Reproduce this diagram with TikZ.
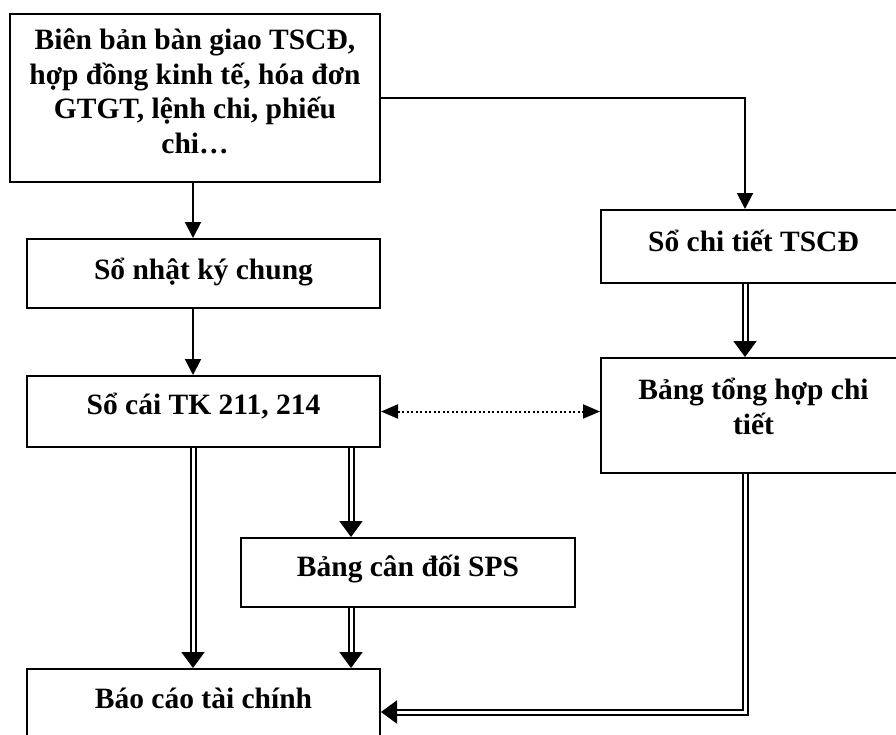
\documentclass[tikz,border=0pt]{standalone}
\usepackage{fontspec}
\setmainfont{Liberation Serif}
\usetikzlibrary{arrows.meta,positioning,calc}
\tikzset{
  box/.style={draw,line width=2pt,inner sep=0pt,align=center,anchor=north west,
    font=\fontsize{29.5}{34.5}\selectfont\bfseries},
  arr/.style={-{Triangle[width=16pt,length=16pt]},line width=2pt},
  darr/.style={-{Triangle[width=23pt,length=16pt]},line width=2pt,double,double distance=3pt},
  dots/.style={{Triangle[width=14pt,length=17pt]}-{Triangle[width=14pt,length=17pt]},
    line width=2pt,dash pattern=on 2pt off 2.5pt}
}
\begin{document}
\begin{tikzpicture}[x=1pt,y=-1pt]
  \useasboundingbox (0,0) rectangle (896,734);
  \clip (0,0) rectangle (896,734);
  % boxes
  \node[box,minimum width=370pt,text height=139pt,text depth=29pt] (src) at (9,13)
    {Biên bản bàn giao TSCĐ,\\hợp đồng kinh tế, hóa đơn\\GTGT, lệnh chi, phiếu\\chi…};
  \node[box,minimum width=353pt,text height=40pt,text depth=29pt] (nkc) at (26,238) {Sổ nhật ký chung};
  \node[box,minimum width=305pt,text height=41pt,text depth=32pt] (sct) at (600,209) {Sổ chi tiết TSCĐ};
  \node[box,minimum width=353pt,text height=38pt,text depth=33pt] (sc) at (26,375) {Sổ cái TK 211, 214};
  \node[box,minimum width=305pt,text height=76pt,text depth=39pt] (bth) at (600,357) {Bảng tổng hợp chi\\tiết};
  \node[box,minimum width=334pt,text height=38pt,text depth=31pt] (cd) at (240,537) {Bảng cân đối SPS};
  \node[box,minimum width=353pt,text height=39pt,text depth=47pt] (bc) at (26,668) {Báo cáo tài chính};
  % single arrows
  \draw[arr] ([xshift=-2pt]src.south) -- ([xshift=-2pt]src.south |- nkc.north);
  \draw[arr] ([xshift=-10.5pt]nkc.south) -- ([xshift=-10.5pt]nkc.south |- sc.north);
  \draw[arr] (src.east) -| ([xshift=-8.5pt]sct.north);
  % double arrows
  \draw[darr] ([xshift=-8.5pt]sct.south) -- ([xshift=-8.5pt]sct.south |- bth.north);
  \draw[darr] ([xshift=-10.5pt]sc.south) -- ([xshift=-10.5pt]sc.south |- bc.north);
  \draw[darr] ([xshift=-57pt]cd.north |- sc.south) -- ([xshift=-57pt]cd.north);
  \draw[darr] ([xshift=-57pt]cd.south) -- ([xshift=-57pt]cd.south |- bc.north);
  \draw[darr] ([xshift=-8.5pt]bth.south) |- (bc.east);
  % dotted link
  \draw[dots] (sc.east) -- (sc.east -| bth.west);
\end{tikzpicture}
\end{document}
